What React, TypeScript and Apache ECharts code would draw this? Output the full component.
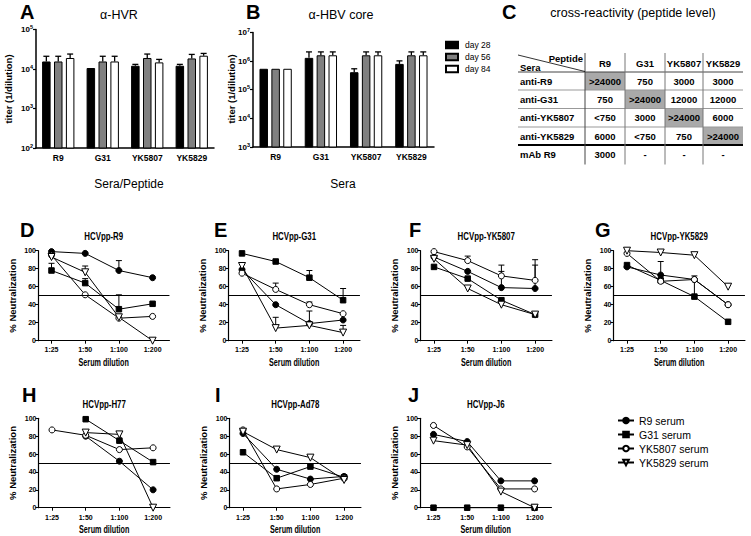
import React, { useEffect, useRef } from 'react';
import * as echarts from 'echarts';

const FONT = '"Liberation Sans", Arial, Helvetica, sans-serif';

// ---------- Panel A / B data ----------
const barCategories = ['R9', 'G31', 'YK5807', 'YK5829'];
const dayNames = ['day 28', 'day 56', 'day 84'];
const hvrDay28 = [15500, 10600, 12100, 12100];
const hvrDay56 = [15500, 15500, 19000, 18500];
const hvrDay84 = [19000, 15500, 14700, 21700];
const hvrErr28 = [21000, null, 13100, 13100];
const hvrErr56 = [21000, 21000, 23900, 23400];
const hvrErr84 = [23900, 21000, 17500, 24800];
const hbcDay28 = [540000, 1300000, 410000, 800000];
const hbcDay56 = [540000, 1600000, 1600000, 1600000];
const hbcDay84 = [540000, 1600000, 1600000, 1600000];
const hbcErr28 = [null, 2100000, 540000, 1020000];
const hbcErr56 = [null, 2100000, 2100000, 2100000];
const hbcErr84 = [null, 2100000, 2100000, 2100000];

// ---------- Panel C data ----------
const peptideCols = ['R9', 'G31', 'YK5807', 'YK5829'];
const seraRows = ['anti-R9', 'anti-G31', 'anti-YK5807', 'anti-YK5829', 'mAb R9'];
const crossTiters = [
  ['>24000', '750', '3000', '3000'],
  ['750', '>24000', '12000', '12000'],
  ['<750', '3000', '>24000', '6000'],
  ['6000', '<750', '750', '>24000'],
  ['3000', '-', '-', '-'],
];

// ---------- Panels D-J data (rows: R9, G31, YK5807, YK5829 serum) ----------
const dilutions = ['1:25', '1:50', '1:100', '1:200'];
const seraNames = ['R9 serum', 'G31 serum', 'YK5807 serum', 'YK5829 serum'];
const hcvR9Values = [[99, 97, 78, 70], [78, 64, 35, 41], [95, 51, 25, 27], [93, 76, 26, 0]];
const hcvR9Errors = [[null, null, 89, null], [86, 69, 51, null], [null, null, null, null], [null, 83, null, null]];
const hcvG31Values = [[79, 40, 19, 23], [97, 88, 70, 45], [75, 57, 40, 30], [83, 14, 17, 9]];
const hcvG31Errors = [[null, null, 33, null], [null, null, 78, 58], [null, 64, 43, null], [null, 26, null, 17]];
const hcvYK5807Values = [[93, 77, 59, 58], [82, 69, 45, 29], [99, 89, 72, 67], [91, 58, 40, 29]];
const hcvYK5807Errors = [[null, null, 77, 84], [null, null, null, null], [null, 94, 84, 90], [null, null, null, null]];
const hcvYK5829Values = [[82, 73, 68, 40], [84, 67, 49, 21], [97, 66, 68, 40], [100, 98, 95, 60]];
const hcvYK5829Errors = [[null, 88, null, null], [null, null, 72, null], [null, null, null, null], [null, null, null, null]];
const hcvH77Values = [[null, 80, 52, 20], [null, 99, 75, 51], [87, 81, 65, 67], [null, 84, 82, 0]];
const hcvAd78Values = [[83, 43, 32, 35], [62, 33, 46, 34], [87, 21, 26, 33], [85, 65, 56, 31]];
const hcvJ6Values = [[82, 74, 30, 30], [0, 0, 0, 0], [92, 68, 21, 21], [75, 70, 18, 0]];
const noErrors = [[null, null, null, null], [null, null, null, null], [null, null, null, null], [null, null, null, null]];

const BAR_STEP = 11.9;

function txt(text: string, x: number, y: number, o: any = {}) {
  const align = o.align || 'center';
  const valign = o.valign || 'middle';
  return {
    type: 'text', x, y, silent: true,
    rotation: o.rotation || 0,
    scaleX: o.scaleX || 1,
    style: {
      text, fill: '#000', fontFamily: FONT, fontSize: o.size || 10,
      fontWeight: o.bold ? 'bold' : 'normal',
      align, verticalAlign: valign, textAlign: align, textVerticalAlign: valign,
    },
  };
}
function seg(x1: number, y1: number, x2: number, y2: number, stroke: string, lineWidth: number) {
  return { type: 'line', silent: true, shape: { x1, y1, x2, y2 }, style: { stroke, lineWidth } };
}

function buildOption() {
  const grid: any[] = [], xAxis: any[] = [], yAxis: any[] = [], series: any[] = [], graphic: any[] = [];
  const labelFont = { color: '#000', fontFamily: FONT, fontWeight: 'bold' };

  // ----- bar panels -----
  const barPanels = [
    { letter: 'A', letterX: 20, title: 'α-HVR', titleX: 119, xName: 'Sera/Peptide', xNameX: 129, yNameX: 8,
      left: 36, width: 178, top: 29.5, height: 118.5, min: 1e2, max: 1e5,
      values: [hvrDay28, hvrDay56, hvrDay84], errors: [hvrErr28, hvrErr56, hvrErr84] },
    { letter: 'B', letterX: 246, title: 'α-HBV core', titleX: 341, xName: 'Sera', xNameX: 343, yNameX: 231,
      left: 253, width: 181, top: 32.5, height: 114.5, min: 1e3, max: 1e7,
      values: [hbcDay28, hbcDay56, hbcDay84], errors: [hbcErr28, hbcErr56, hbcErr84] },
  ];
  const dayColors = ['#000000', '#808080', '#ffffff'];
  barPanels.forEach((p, k) => {
    grid.push({ left: p.left, top: p.top, width: p.width, height: p.height });
    xAxis.push({
      type: 'category', gridIndex: k, data: barCategories,
      axisLine: { onZero: false, lineStyle: { color: '#000', width: 1.5 } },
      axisTick: { show: false },
      axisLabel: { ...labelFont, fontSize: 8.5, margin: 5 },
    });
    yAxis.push({
      type: 'log', gridIndex: k, logBase: 10, min: p.min, max: p.max,
      axisLine: { show: true, onZero: false, lineStyle: { color: '#000', width: 1.5 } },
      axisTick: { show: true, length: 3, lineStyle: { color: '#000', width: 1.2 } },
      splitLine: { show: false },
      axisLabel: {
        ...labelFont, fontSize: 8, margin: 3,
        formatter: (v: number) => '10{s|' + Math.round(Math.log10(v)) + '}',
        rich: { s: { fontSize: 5.5, fontWeight: 'bold', fontFamily: FONT, color: '#000', padding: [0, 0, 5, 0] } },
      },
    });
    p.values.forEach((vals, d) => {
      series.push({
        type: 'bar', name: dayNames[d], xAxisIndex: k, yAxisIndex: k, data: vals,
        barWidth: 8.5, barGap: '40%', clip: true,
        itemStyle: { color: dayColors[d], borderColor: '#000', borderWidth: 1 },
        emphasis: { disabled: true },
      });
    });
    const errData: any[] = [];
    p.errors.forEach((errs, d) => errs.forEach((e, i) => { if (e != null) errData.push([i, e, p.values[d][i], d]); }));
    series.push({
      type: 'custom', xAxisIndex: k, yAxisIndex: k, data: errData, z: 5, clip: false, silent: true,
      renderItem: (params: any, api: any) => {
        const cat = api.value(0), top = api.value(1), val = api.value(2), d = api.value(3);
        const pt = api.coord([cat, top]);
        const pv = api.coord([cat, val]);
        const x = pt[0] + (d - 1) * BAR_STEP;
        return { type: 'group', children: [
          { type: 'line', shape: { x1: x, y1: pv[1], x2: x, y2: pt[1] }, style: { stroke: '#000', lineWidth: 1.3 } },
          { type: 'line', shape: { x1: x - 3, y1: pt[1], x2: x + 3, y2: pt[1] }, style: { stroke: '#000', lineWidth: 1.3 } },
        ] };
      },
    });
    graphic.push(txt(p.letter, p.letterX, 12, { size: 20, bold: true, align: 'left' }));
    graphic.push(txt(p.title, p.titleX, 15, { size: 12.5 }));
    graphic.push(txt(p.xName, p.xNameX, 184, { size: 12 }));
    graphic.push(txt('titer (1/dilution)', p.yNameX, 89, { size: 9.5, bold: true, rotation: Math.PI / 2 }));
  });

  // ----- cross-reactivity table -----
  const colX = [518, 585, 625, 665, 703, 743];
  const rowY = [53, 72, 90, 108.5, 127, 145, 163.5];
  for (let i = 0; i < 4; i++) {
    graphic.push({ type: 'rect', silent: true,
      shape: { x: colX[i + 1], y: rowY[i + 1], width: colX[i + 2] - colX[i + 1], height: rowY[i + 2] - rowY[i + 1] },
      style: { fill: '#a9a9a9' } });
  }
  graphic.push(seg(colX[0], rowY[1], colX[5], rowY[1], '#444', 1));
  [2, 3, 4].forEach(r => graphic.push(seg(colX[0], rowY[r], colX[5], rowY[r], '#999', 1)));
  graphic.push(seg(colX[0], rowY[5], colX[5], rowY[5], '#000', 2));
  [1, 2, 3, 4].forEach(c => graphic.push(seg(colX[c], rowY[0], colX[c], rowY[6] + 1, c === 1 ? '#444' : '#777', 1)));
  graphic.push(seg(colX[0], rowY[0] + 2, colX[1], rowY[1] - 0.5, '#000', 0.8));
  graphic.push(txt('Peptide', colX[1] - 2, 58, { size: 9.5, bold: true, align: 'right' }));
  graphic.push(txt('Sera', colX[0] + 2, 67.5, { size: 9.5, bold: true, align: 'left' }));
  peptideCols.forEach((c, i) => graphic.push(txt(c, (colX[i + 1] + colX[i + 2]) / 2, (rowY[0] + rowY[1]) / 2 + 1, { size: 9.5, bold: true })));
  seraRows.forEach((r, j) => {
    const cy = (rowY[j + 1] + rowY[j + 2]) / 2;
    graphic.push(txt(r, colX[0] + 2, cy, { size: 9.5, bold: true, align: 'left' }));
    crossTiters[j].forEach((v, i) => graphic.push(txt(v, (colX[i + 1] + colX[i + 2]) / 2, cy, { size: 9.5, bold: true })));
  });
  graphic.push(txt('C', 502, 12, { size: 20, bold: true, align: 'left' }));
  graphic.push(txt('cross-reactivity (peptide level)', 633, 13, { size: 12.5 }));

  // ----- neutralization panels -----
  const rows = [
    { top: 250.7, height: 90, titleY: 237, letterY: 230, xNameY: 363, labelMargin: 5 },
    { top: 418.3, height: 89.4, titleY: 405, letterY: 395, xNameY: 530, labelMargin: 6 },
  ];
  const linePanels = [
    { letter: 'D', title: 'HCVpp-R9', values: hcvR9Values, errors: hcvR9Errors, x0: 51.5, row: 0, letterX: 20 },
    { letter: 'E', title: 'HCVpp-G31', values: hcvG31Values, errors: hcvG31Errors, x0: 242, row: 0, letterX: 214 },
    { letter: 'F', title: 'HCVpp-YK5807', values: hcvYK5807Values, errors: hcvYK5807Errors, x0: 434, row: 0, letterX: 409 },
    { letter: 'G', title: 'HCVpp-YK5829', values: hcvYK5829Values, errors: hcvYK5829Errors, x0: 627, row: 0, letterX: 595 },
    { letter: 'H', title: 'HCVpp-H77', values: hcvH77Values, errors: noErrors, x0: 52, row: 1, letterX: 22 },
    { letter: 'I', title: 'HCVpp-Ad78', values: hcvAd78Values, errors: noErrors, x0: 243, row: 1, letterX: 215 },
    { letter: 'J', title: 'HCVpp-J6', values: hcvJ6Values, errors: noErrors, x0: 433.5, row: 1, letterX: 408 },
  ];
  const symbols = [
    { symbol: 'circle', fill: '#000', size: 6, rotate: 0 },
    { symbol: 'rect', fill: '#000', size: 5.5, rotate: 0 },
    { symbol: 'circle', fill: '#fff', size: 6, rotate: 0 },
    { symbol: 'triangle', fill: '#fff', size: 7, rotate: 180 },
  ];
  const UNIT = 33.7;
  linePanels.forEach((p, j) => {
    const gi = 2 + j;
    const r = rows[p.row];
    const left = p.x0 - 0.4 * UNIT;
    const width = 3.9 * UNIT;
    grid.push({ left, top: r.top, width, height: r.height });
    xAxis.push({
      type: 'value', gridIndex: gi, min: -0.4, max: 3.5,
      splitLine: { show: false },
      axisLine: { onZero: false, lineStyle: { color: '#000', width: 1.2 } },
      axisTick: { show: true, length: 3, customValues: [0, 1, 2, 3], lineStyle: { color: '#000' } },
      axisLabel: { ...labelFont, fontSize: 7, margin: r.labelMargin, customValues: [0, 1, 2, 3],
        formatter: (v: number) => (Number.isInteger(v) && dilutions[v]) ? dilutions[v] : '' },
    });
    yAxis.push({
      type: 'value', gridIndex: gi, min: 0, max: 100, interval: 20,
      splitLine: { show: false },
      axisLine: { show: true, onZero: false, lineStyle: { color: '#000', width: 1.2 } },
      axisTick: { show: true, length: 3, lineStyle: { color: '#000' } },
      axisLabel: { ...labelFont, fontSize: 7, margin: 2 },
    });
    p.values.forEach((vals, s) => {
      const sym = symbols[s];
      const data = vals.map((v, i) => (v == null ? null : [i, v])).filter(d => d != null);
      series.push({
        type: 'line', name: seraNames[s], xAxisIndex: gi, yAxisIndex: gi, data,
        symbol: sym.symbol, symbolSize: sym.size, symbolRotate: sym.rotate, showSymbol: true, clip: false,
        lineStyle: { color: '#000', width: 1 },
        itemStyle: { color: sym.fill, borderColor: '#000', borderWidth: 1 },
        emphasis: { disabled: true }, z: 4,
        markLine: s === 0 ? {
          silent: true, symbol: 'none', label: { show: false },
          lineStyle: { color: '#000', width: 1, type: 'solid' },
          data: [{ yAxis: 50 }],
        } : undefined,
      });
    });
    const errData: any[] = [];
    p.errors.forEach((errs, s) => errs.forEach((e, i) => { if (e != null) errData.push([i, e, p.values[s][i] as number]); }));
    if (errData.length) {
      series.push({
        type: 'custom', xAxisIndex: gi, yAxisIndex: gi, data: errData, z: 3, clip: false, silent: true,
        renderItem: (params: any, api: any) => {
          const pt = api.coord([api.value(0), api.value(1)]);
          const pv = api.coord([api.value(0), api.value(2)]);
          return { type: 'group', children: [
            { type: 'line', shape: { x1: pt[0], y1: pv[1], x2: pt[0], y2: pt[1] }, style: { stroke: '#000', lineWidth: 1 } },
            { type: 'line', shape: { x1: pt[0] - 3, y1: pt[1], x2: pt[0] + 3, y2: pt[1] }, style: { stroke: '#000', lineWidth: 1 } },
          ] };
        },
      });
    }
    const cx = left + width / 2;
    graphic.push(txt(p.letter, p.letterX, r.letterY, { size: 20, bold: true, align: 'left' }));
    graphic.push(txt(p.title, cx, r.titleY, { size: 10.5, bold: true, scaleX: 0.75 }));
    graphic.push(txt('Serum dilution', cx, r.xNameY, { size: 10, bold: true, scaleX: 0.72 }));
    graphic.push(txt('% Neutralization', p.x0 - 39.5, r.top + r.height / 2, { size: 9.5, bold: true, rotation: Math.PI / 2 }));
  });

  return {
    animation: false,
    backgroundColor: '#fff',
    textStyle: { fontFamily: FONT },
    grid, xAxis, yAxis, series, graphic,
    legend: [
      {
        data: dayNames.map(n => ({ name: n, icon: 'rect' })),
        orient: 'vertical', left: 440, top: 35.5, itemWidth: 12, itemHeight: 6.5, itemGap: 3,
        selectedMode: false,
        textStyle: { color: '#000', fontFamily: FONT, fontSize: 8.5, padding: [0, 0, 0, 2] },
      },
      {
        data: seraNames,
        orient: 'vertical', left: 612, top: 410, itemWidth: 16, itemHeight: 7, itemGap: 3,
        selectedMode: false,
        textStyle: { color: '#000', fontFamily: FONT, fontSize: 10.5 },
      },
    ],
  };
}

export default function App() {
  const ref = useRef<HTMLDivElement>(null);
  useEffect(() => {
    const chart = echarts.init(ref.current!, null, { renderer: 'svg' });
    chart.setOption(buildOption() as any);
    return () => chart.dispose();
  }, []);
  return <div ref={ref} style={{ position: 'absolute', left: 0, top: 0, width: 751, height: 536, background: '#fff' }} />;
}
